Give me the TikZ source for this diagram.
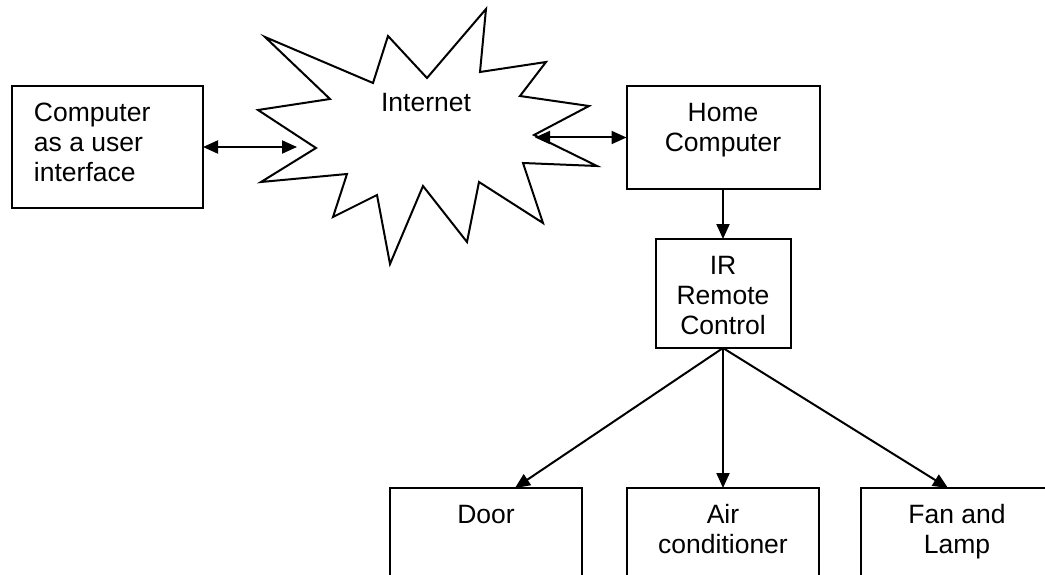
\documentclass[tikz,border=0pt]{standalone}
\usepackage{fontspec}
\setmainfont{Liberation Sans}
\usetikzlibrary{arrows.meta}
\begin{document}
\begin{tikzpicture}[x=1pt,y=-1pt,
  line width=2pt,
  box/.style={draw,line width=2pt,inner sep=0pt,outer sep=0pt},
  txt/.style={font=\fontsize{26.5}{30}\selectfont,inner sep=0pt,anchor=base},
  txtl/.style={txt,anchor=base west},
  arr/.style={-{Triangle[length=15pt,width=13pt]}},
  darr/.style={{Triangle[length=15pt,width=13pt]}-{Triangle[length=15pt,width=13pt]}}]
\useasboundingbox (0,0) rectangle (1045,575);
\clip (0,0) rectangle (1045,575);
% boxes
\node[box,minimum width=191pt,minimum height=122pt] (user) at (107.5,147) {};
\node[box,minimum width=193pt,minimum height=103pt] (home) at (723,137.5) {};
\node[box,minimum width=135pt,minimum height=109pt] (ir) at (723,293.5) {};
\node[box,minimum width=192pt,minimum height=120pt] (door) at (486,548) {};
\node[box,minimum width=192pt,minimum height=120pt] (air) at (723,548) {};
\node[box,minimum width=192pt,minimum height=120pt] (fan) at (957,548) {};
% texts
\node[txtl] (u1) at (33,122) {Computer};
\node[txtl] (u2) at (33,152) {as a user};
\node[txtl] (u3) at (33,182) {interface};
\node[txt] (h1) at (723,122) {Home};
\node[txt] (h2) at (723,152) {Computer};
\node[txt] (i1) at (723,274) {IR};
\node[txt] (i2) at (723,304) {Remote};
\node[txt] (i3) at (723,334) {Control};
\node[txt] (d1) at (486,523) {Door};
\node[txt] (a1) at (723,523) {Air};
\node[txt] (a2) at (723,553) {conditioner};
\node[txt] (f1) at (957,523) {Fan and};
\node[txt] (f2) at (957,553) {Lamp};
% internet starburst
\draw[line join=miter] (265,37) -- (373,83) -- (388,36) -- (427,78) -- (486,9) -- (480,72)
  -- (546,62) -- (520,96) -- (589,106) -- (534,135) -- (597,166) -- (523,163)
  -- (543,223) -- (479,182) -- (467,242) -- (423,186) -- (390,264) -- (377,195)
  -- (333,217) -- (347,174) -- (261,182) -- (316,148) -- (258,110) -- (330,99) -- cycle;
\node[txt] (net) at (426,112) {Internet};
\coordinate (sl) at (297,147);
\coordinate (sr) at (535,137.5);
% connectors
\draw[darr] (user.east) -- (sl);
\draw[darr] (sr) -- (home.west);
\draw[arr] (home.south) -- (ir.north);
\draw[arr] (ir.south) -- ([xshift=29pt]door.north);
\draw[arr] (ir.south) -- (air.north);
\draw[arr] (ir.south) -- ([xshift=-9pt]fan.north);
\end{tikzpicture}
\end{document}
